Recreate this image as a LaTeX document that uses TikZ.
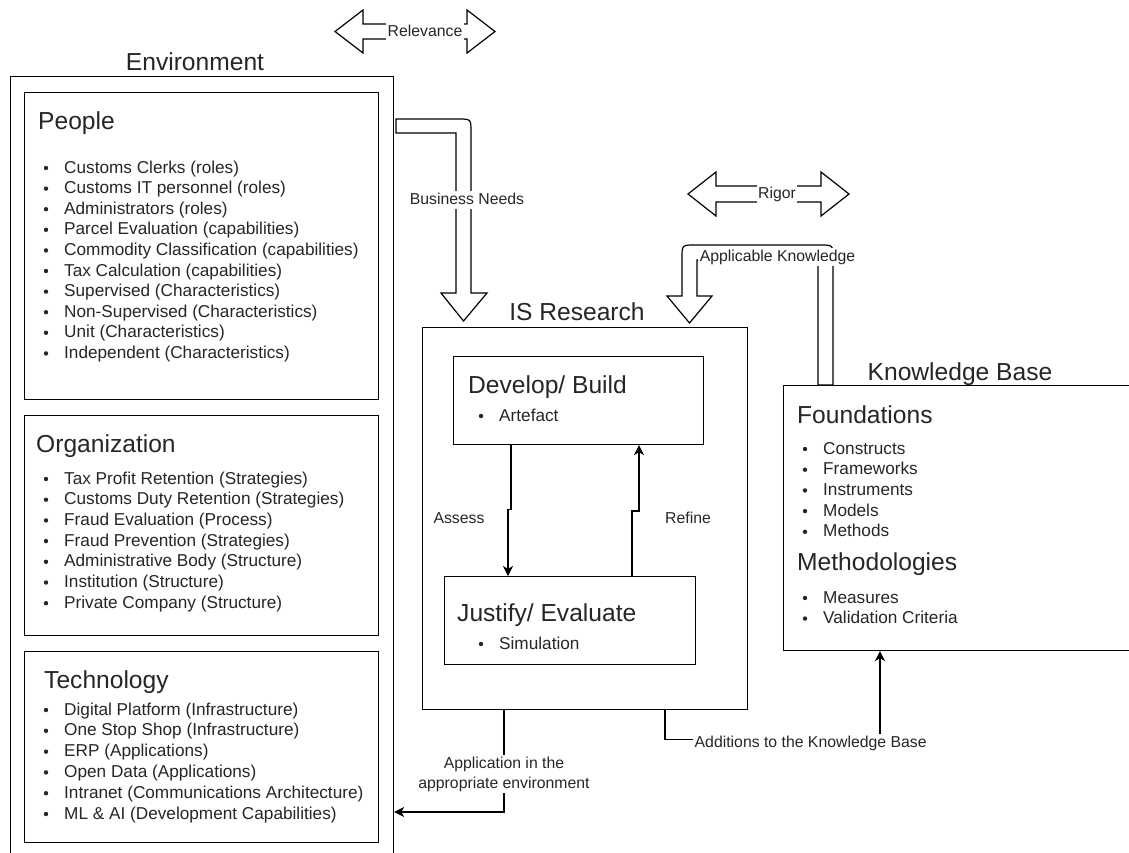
\documentclass[tikz,border=0pt]{standalone}
\usepackage{fontspec}
\setmainfont{Liberation Sans}
\usetikzlibrary{arrows.meta}
\definecolor{ink}{HTML}{262626}

\begin{document}
\begin{tikzpicture}[x=1pt,y=-1pt,
  box/.style={draw=black, line width=1.2pt, inner sep=0pt},
  conn/.style={draw=black, line width=1.1pt},
  tip/.style={-{Stealth[length=10pt,width=10pt,inset=3pt]}},
  head/.style={font=\fontsize{24.6}{28}\selectfont, text=ink, inner sep=0pt},
  item/.style={font=\fontsize{17.2}{20}\selectfont, text=ink, inner sep=0pt, anchor=base west},
  lab/.style={font=\fontsize{15.8}{20}\selectfont, text=ink, fill=white, inner sep=1.5pt,
              text height=11.5pt, text depth=3.5pt},
  blockarrow/.style={draw=black, line width=1.2pt, fill=white, line join=miter},
]
\useasboundingbox (0,0) rectangle (1129,852);
\fill[white] (0,0) rectangle (1129,852);
\clip (0,0) rectangle (1129,852);

% ---------- Environment ----------
\node[box, anchor=north west, minimum width=383, minimum height=820] (env) at (10,76) {};
\node[head, anchor=base] (envt) at (195,70) {Environment};

\node[box, anchor=north west, minimum width=354, minimum height=307] (people) at (24,92) {};
\node[head, anchor=base west] (peoplet) at (38,129) {People};
\foreach \t [count=\i] in {Customs Clerks (roles), Customs IT personnel (roles),
    Administrators (roles), Parcel Evaluation (capabilities),
    Commodity Classification (capabilities), Tax Calculation (capabilities),
    Supervised (Characteristics), Non-Supervised (Characteristics),
    Unit (Characteristics), Independent (Characteristics)} {
  \node[item] (pe\i) at (64,{167+20.6*(\i-1)+6}) {\t};
  \fill[ink] (46,{167+20.6*(\i-1)+1}) circle[radius=2.2];
}

\node[box, anchor=north west, minimum width=354, minimum height=220] (org) at (24,415) {};
\node[head, anchor=base west] (orgt) at (36,452) {Organization};
\foreach \t [count=\i] in {Tax Profit Retention (Strategies), Customs Duty Retention (Strategies),
    Fraud Evaluation (Process), Fraud Prevention (Strategies),
    Administrative Body (Structure), Institution (Structure),
    Private Company (Structure)} {
  \node[item] (or\i) at (64,{478+20.7*(\i-1)+6}) {\t};
  \fill[ink] (46,{478+20.7*(\i-1)+1}) circle[radius=2.2];
}

\node[box, anchor=north west, minimum width=354, minimum height=191] (tech) at (24,651) {};
\node[head, anchor=base west] (techt) at (44,688) {Technology};
\foreach \t [count=\i] in {Digital Platform (Infrastructure), One Stop Shop (Infrastructure),
    ERP (Applications), Open Data (Applications),
    Intranet (Communications Architecture), ML \& AI (Development Capabilities)} {
  \node[item] (te\i) at (64,{709+20.8*(\i-1)+6}) {\t};
  \fill[ink] (46,{709+20.8*(\i-1)+1}) circle[radius=2.2];
}

% ---------- IS Research ----------
\node[box, anchor=north west, minimum width=325, minimum height=382] (isr) at (422,327) {};
\node[head, anchor=base] (isrt) at (577,320) {IS Research};

\node[box, anchor=north west, minimum width=250, minimum height=88] (dev) at (453,356) {};
\node[head, anchor=base west] (devt) at (468,393) {Develop/ Build};
\node[item] (devi) at (499,421) {Artefact};
\fill[ink] (481,416) circle[radius=2.2];

\node[box, anchor=north west, minimum width=251, minimum height=88] (just) at (444,576) {};
\node[head, anchor=base west] (justt) at (457,621) {Justify/ Evaluate};
\node[item] (justi) at (499,649) {Simulation};
\fill[ink] (481,644) circle[radius=2.2];

% ---------- Knowledge Base ----------
\node[box, anchor=north west, minimum width=362, minimum height=265] (kb) at (783,385) {};
\node[head, anchor=base] (kbt) at (960,380) {Knowledge Base};
\node[head, anchor=base west] (fdt) at (797,423) {Foundations};
\foreach \t [count=\i] in {Constructs, Frameworks, Instruments, Models, Methods} {
  \node[item] (fd\i) at (823,{448+20.7*(\i-1)+6}) {\t};
  \fill[ink] (805,{448+20.7*(\i-1)+1}) circle[radius=2.2];
}
\node[head, anchor=base west] (mtt) at (797,570) {Methodologies};
\foreach \t [count=\i] in {Measures, Validation Criteria} {
  \node[item] (mt\i) at (823,{597+20.5*(\i-1)+6}) {\t};
  \fill[ink] (805,{597+20.5*(\i-1)+1}) circle[radius=2.2];
}

% ---------- Block arrows ----------
% Relevance
\draw[blockarrow] (335,31.5) -- (363,10) -- (363,24) -- (467,24) -- (467,10) -- (495,31.5)
  -- (467,53) -- (467,39) -- (363,39) -- (363,53) -- cycle;
\node[lab] (rel) at (425,32) {Relevance};
% Rigor
\draw[blockarrow] (688,194) -- (716,172) -- (716,186) -- (821,186) -- (821,172) -- (849,194)
  -- (821,216) -- (821,202) -- (716,202) -- (716,216) -- cycle;
\node[lab] (rig) at (777,194) {Rigor};
% Business Needs
\draw[blockarrow] (396,119) -- (458,119) .. controls (471,119) .. (471,132) -- (471,293)
  -- (487,293) -- (463.5,321) -- (441,293) -- (456,293) -- (456,133) -- (396,133) -- cycle;
\node[lab] (bn) at (467,200) {Business Needs};
% Applicable Knowledge
\draw[blockarrow] (818,385) -- (818,260) -- (697,260) -- (697,296) -- (712,296) -- (689.5,323)
  -- (667,296) -- (682,296) -- (682,258) .. controls (682,245) .. (695,245) -- (820,245)
  .. controls (833,245) .. (833,258) -- (833,385) -- cycle;
\node[lab] (ak) at (777.5,257) {Applicable Knowledge};

% ---------- Connectors ----------
\draw[conn,tip] ([xshift=58pt]dev.south west) -- ++(0,64) -- ++(-3,0) -- ([xshift=64pt]just.north west);
\node[lab, fill=none] (as) at (459,519) {Assess};
\draw[conn,tip] ([xshift=188pt]just.north west) -- ++(0,-65) -- ++(7,0) -- ([xshift=186pt]dev.south west);
\node[lab, fill=none] (rf) at (688,519) {Refine};

\draw[conn,tip] ([xshift=82pt]isr.south west) |- ([yshift=-736pt]env.north east);
\node[lab, align=center, text height=, text depth=] (app) at (504,774)
  {Application in the\\appropriate environment};

\draw[conn,tip] ([xshift=243pt]isr.south west) -- ++(0,29) -| ([xshift=97pt]kb.south west);
\node[lab, anchor=west] (add) at (693,743) {Additions to the Knowledge Base};
\end{tikzpicture}
\end{document}
